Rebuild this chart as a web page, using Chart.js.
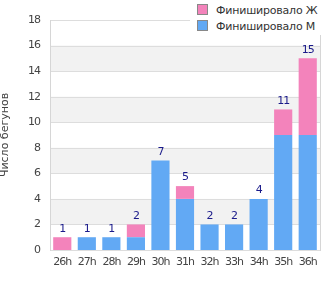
<!DOCTYPE html>
<html><head><meta charset="utf-8">
<script src="https://cdn.jsdelivr.net/npm/chart.js@4"></script>
<style>
html,body{margin:0;padding:0;background:#fff;}
#wrap{position:relative;width:330px;height:300px;}
#legend{position:absolute;left:190px;top:0;width:140px;height:35px;background:#fff;font:11px "DejaVu Sans";color:#333;letter-spacing:-0.2px;}
.li{position:absolute;left:7px;height:12px;line-height:12px;white-space:nowrap;}
.sw{display:inline-block;width:9px;height:9px;border:1px solid #888;vertical-align:-1px;margin-right:8px;}
</style>
</head><body>
<div id="wrap"><canvas id="c" width="330" height="300"></canvas><div id="legend"></div></div>
<script>
const categories = ["26h","27h","28h","29h","30h","31h","32h","33h","34h","35h","36h"];
const female = [1,0,0,1,0,1,0,0,0,2,6];
const male = [0,1,1,1,7,4,2,2,4,9,9];
const seriesLabels = ["Финишировало Ж","Финишировало М"];
const yTitle = "Число бегунов";
const yTicks = [0,2,4,6,8,10,12,14,16,18];
const colF = "#f383bb", colM = "#62a9f4";

const spacing = {
  id:'spacing',
  beforeDraw(ch){ ch.ctx.letterSpacing = "-1px"; }
};
const bands = {
  id:'bands',
  beforeDatasetsDraw(ch){
    const {ctx, chartArea:a, scales:{y}} = ch;
    ctx.save();
    ctx.fillStyle = "#f2f2f2";
    for (let i=0;i<yTicks.length-1;i++){
      if (i%2===1){
        const t=y.getPixelForValue(yTicks[i+1]), b=y.getPixelForValue(yTicks[i]);
        ctx.fillRect(a.left, t, a.right-a.left, b-t);
      }
    }
    ctx.strokeStyle="#dddddd"; ctx.lineWidth=1;
    yTicks.forEach(v=>{const p=Math.round(y.getPixelForValue(v))+0.5;ctx.beginPath();ctx.moveTo(a.left,p);ctx.lineTo(a.right,p);ctx.stroke();});
    ctx.strokeStyle="#d6d6d6";
    ctx.beginPath();ctx.moveTo(Math.round(a.right)+0.5,a.top);ctx.lineTo(Math.round(a.right)+0.5,a.bottom);ctx.stroke();
    ctx.beginPath();ctx.moveTo(Math.round(a.left)+0.5,a.top);ctx.lineTo(Math.round(a.left)+0.5,a.bottom+1);ctx.stroke();
    ctx.restore();
  }
};
const totals = {
  id:'totals',
  afterDatasetsDraw(ch){
    const {ctx, scales:{x,y}, chartArea:a} = ch;
    ctx.save();
    ctx.letterSpacing = "-1px";
    ctx.fillStyle="#1a1a8a"; ctx.font='11px "DejaVu Sans"'; ctx.textAlign="center"; ctx.textBaseline="bottom";
    categories.forEach((c,i)=>{
      const t=female[i]+male[i];
      ctx.fillText(String(t), x.getPixelForValue(i), y.getPixelForValue(t)-3);
    });
    ctx.restore();
    ctx.save();
    ctx.letterSpacing = "0px";
    ctx.fillStyle="#444"; ctx.font='11px "DejaVu Sans"'; ctx.textAlign="center"; ctx.textBaseline="alphabetic";
    ctx.translate(8, (a.top+a.bottom)/2);
    ctx.rotate(-Math.PI/2);
    ctx.fillText(yTitle, 0, 0);
    ctx.restore();
  }
};

new Chart(document.getElementById('c'),{
  type:'bar',
  data:{labels:categories,datasets:[
    {label:seriesLabels[0],data:female,backgroundColor:colF,stack:'s',order:1},
    {label:seriesLabels[1],data:male,backgroundColor:colM,stack:'s',order:0}
  ]},
  options:{
    responsive:false,animation:false,devicePixelRatio:1,
    layout:{padding:{top:20,right:10,bottom:28,left:0}},
    plugins:{legend:{display:false},tooltip:{enabled:false}},
    datasets:{bar:{barPercentage:0.74,categoryPercentage:1}},
    scales:{
      x:{stacked:true,grid:{display:false,drawTicks:false},border:{color:"#d6d6d6"},
         ticks:{color:"#444",font:{family:"DejaVu Sans",size:11},padding:6,maxRotation:0,autoSkip:false},
         afterFit(s){s.height=22;}},
      y:{stacked:true,min:0,max:18,grid:{display:false,drawTicks:false},border:{display:false},
         afterBuildTicks(s){s.ticks=yTicks.map(v=>({value:v}));},
         ticks:{color:"#444",font:{family:"DejaVu Sans",size:11},padding:10},
         title:{display:false},
         afterFit(s){s.width=50;}}
    }
  },
  plugins:[spacing,bands,totals]
});

const lg=document.getElementById('legend');
[[seriesLabels[0],colF,4],[seriesLabels[1],colM,20]].forEach(([t,c,top])=>{
  const d=document.createElement('div');d.className='li';d.style.top=top+'px';
  const s=document.createElement('span');s.className='sw';s.style.background=c;
  d.appendChild(s);d.appendChild(document.createTextNode(t));lg.appendChild(d);
});
</script>
</body></html>
